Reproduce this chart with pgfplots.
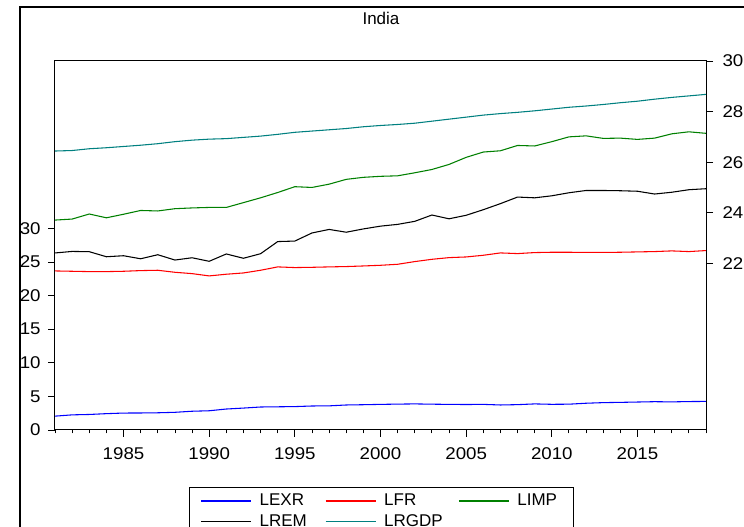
\documentclass[border=0pt]{standalone}
\usepackage{fontspec}
\setmainfont{Liberation Sans}
\usepackage{pgfplots}
\pgfplotsset{compat=1.18}
\usepackage{pgfplotstable}
\definecolor{lgreen}{RGB}{0,128,0}
\definecolor{lteal}{RGB}{0,128,128}
\newcommand\chfont{\fontsize{12.75pt}{15pt}\selectfont}
\pgfplotstableread{
year LEXR LFR
1981 2.06 23.66
1982 2.25 23.61
1983 2.31 23.56
1984 2.43 23.56
1985 2.52 23.61
1986 2.53 23.71
1987 2.56 23.76
1988 2.63 23.46
1989 2.79 23.26
1990 2.86 22.92
1991 3.12 23.17
1992 3.26 23.36
1993 3.42 23.76
1994 3.45 24.26
1995 3.48 24.16
1996 3.57 24.20
1997 3.59 24.26
1998 3.72 24.31
1999 3.76 24.40
2000 3.81 24.50
2001 3.85 24.65
2002 3.88 25.05
2003 3.84 25.39
2004 3.81 25.64
2005 3.79 25.74
2006 3.81 25.99
2007 3.72 26.34
2008 3.77 26.24
2009 3.88 26.39
2010 3.82 26.44
2011 3.84 26.44
2012 3.98 26.41
2013 4.07 26.41
2014 4.11 26.44
2015 4.16 26.49
2016 4.21 26.54
2017 4.18 26.64
2018 4.23 26.54
2019 4.25 26.69
}\leftdata
\pgfplotstableread{
year LIMP LREM LRGDP
1981 23.71 22.41 26.44
1982 23.75 22.47 26.46
1983 23.95 22.46 26.53
1984 23.80 22.26 26.57
1985 23.94 22.30 26.62
1986 24.09 22.18 26.67
1987 24.07 22.34 26.73
1988 24.16 22.13 26.81
1989 24.19 22.22 26.87
1990 24.21 22.08 26.91
1991 24.21 22.37 26.93
1992 24.40 22.20 26.98
1993 24.59 22.38 27.03
1994 24.80 22.86 27.10
1995 25.03 22.88 27.18
1996 25.00 23.20 27.23
1997 25.13 23.34 27.28
1998 25.32 23.23 27.33
1999 25.40 23.36 27.40
2000 25.44 23.47 27.45
2001 25.46 23.54 27.49
2002 25.58 23.66 27.54
2003 25.71 23.91 27.62
2004 25.91 23.76 27.70
2005 26.19 23.90 27.78
2006 26.40 24.12 27.86
2007 26.45 24.36 27.92
2008 26.66 24.62 27.97
2009 26.64 24.59 28.03
2010 26.81 24.67 28.10
2011 27.00 24.79 28.17
2012 27.04 24.88 28.22
2013 26.94 24.88 28.28
2014 26.95 24.87 28.35
2015 26.90 24.85 28.41
2016 26.95 24.74 28.49
2017 27.12 24.81 28.56
2018 27.20 24.91 28.62
2019 27.14 24.95 28.68
}\rightdata
\begin{document}
\begin{tikzpicture}
\useasboundingbox (0,0) rectangle (558pt,395.25pt);
\clip (0,0) rectangle (558pt,395.25pt);
\fill[white] (0,0) rectangle (558pt,395.25pt);
\draw[line width=1.6pt] (15pt,-20pt) -- (15pt,390pt) -- (580pt,390pt);
\node[font=\chfont] at (285.75pt,381.75pt) {India};
\pgfplotsset{common/.style={
  at={(41.25pt,72.75pt)}, anchor=south west, scale only axis,
  width=488.25pt, height=276.75pt, xmin=1981, xmax=2019,
  major tick length=5.25pt, minor tick length=2.6pt,
  every tick/.style={black, line width=0.6pt},
  ticklabel style={font=\chfont, xscale=1.1},
  /pgf/number format/assume math mode=true,
  /pgf/number format/1000 sep={},
  axis line style={line width=0.75pt},
}}
\begin{axis}[common, ymin=0, ymax=54.89, ytick={0,5,...,30},
  ytick pos=left, xtick pos=bottom, tick align=outside,
  xtick={1985,1990,...,2015}, minor xtick={1981,...,2019},
  yticklabel style={xshift=-1.5pt}, xticklabel style={yshift=-4.5pt},
  legend columns=3,
  legend image code/.code={\draw[line width=0.9pt] (0pt,0pt) -- (37.5pt,0pt);},
  legend style={at={(0.2058,-0.1545)}, anchor=north west, draw=black,
    line width=0.75pt, font=\chfont, inner xsep=8.25pt, inner ysep=3pt,
    row sep=1pt,
    /tikz/every odd column/.append style={column sep=4pt}}]
\addplot[blue, line width=0.8pt] table[x=year,y=LEXR]{\leftdata};
\addlegendentry{\makebox[47pt][l]{LEXR}}
\addplot[red, line width=0.8pt] table[x=year,y=LFR]{\leftdata};
\addlegendentry{\makebox[53.5pt][l]{LFR}}
\addlegendimage{lgreen, line width=0.8pt}
\addlegendentry{\makebox[31.5pt][l]{LIMP}}
\addlegendimage{black, line width=0.8pt}
\addlegendentry{\makebox[47pt][l]{LREM}}
\addlegendimage{lteal, line width=0.8pt}
\addlegendentry{\makebox[53.5pt][l]{LRGDP}}
\end{axis}
\begin{axis}[common, ymin=15.41, ymax=30, ytick={22,24,...,30},
  axis x line=none, axis y line*=right, tick align=outside,
  yticklabel style={xshift=3pt}]
\addplot[lgreen, line width=0.8pt] table[x=year,y=LIMP]{\rightdata};
\addplot[black, line width=0.8pt] table[x=year,y=LREM]{\rightdata};
\addplot[lteal, line width=0.8pt] table[x=year,y=LRGDP]{\rightdata};
\end{axis}
\end{tikzpicture}
\end{document}
